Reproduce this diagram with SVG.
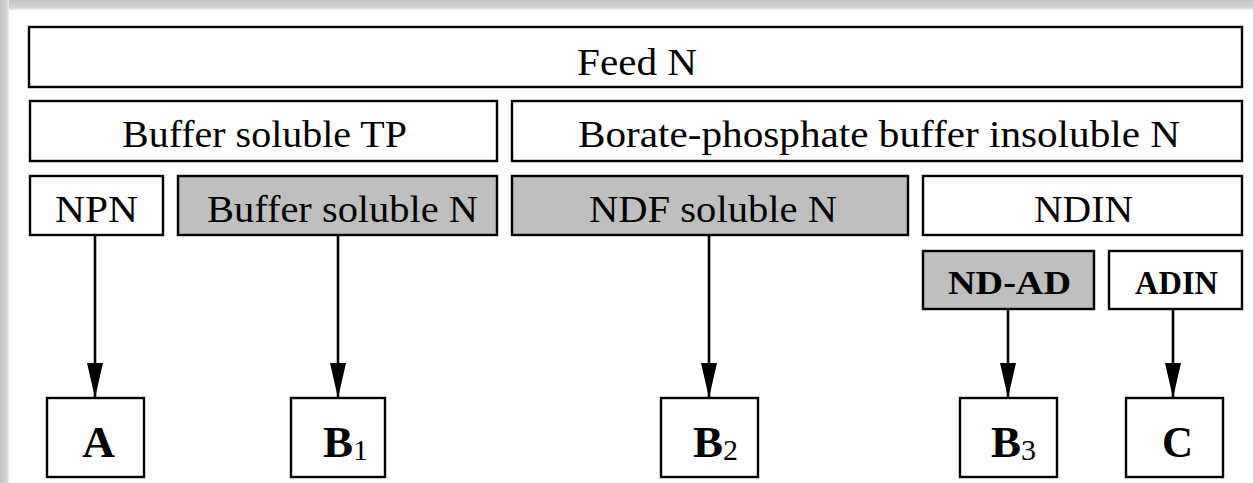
<svg xmlns="http://www.w3.org/2000/svg" width="1253" height="483" viewBox="0 0 1253 483">
<style>
.box{fill:#ffffff;stroke:#000;stroke-width:2.4}
.grey{fill:#bfbfbf;stroke:#000;stroke-width:2.4}
.t{font-family:"Liberation Serif","Times New Roman",serif;font-size:37px;fill:#000;text-anchor:start}
.s{font-family:"Liberation Serif","Times New Roman",serif;font-size:34px;font-weight:bold;fill:#000}
.b{font-family:"Liberation Serif","Times New Roman",serif;font-size:45px;font-weight:bold;fill:#000}
.sub{font-family:"Liberation Serif","Times New Roman",serif;font-size:30px;font-weight:normal;fill:#000}
.arr{stroke:#000;stroke-width:2.6;fill:none;marker-end:url(#ah)}
</style>
<defs>
<marker id="ah" markerWidth="36" markerHeight="16" refX="35" refY="8" orient="auto" markerUnits="userSpaceOnUse" viewBox="0 0 36 16">
<path d="M0,0 L35,8 L0,16 Z" fill="#000"/>
</marker>
<linearGradient id="gt" x1="0" y1="0" x2="0" y2="1">
<stop offset="0" stop-color="#c4c4c4"/><stop offset="0.7" stop-color="#d2d2d2"/><stop offset="1" stop-color="#ececec"/>
</linearGradient>
<linearGradient id="gl" x1="0" y1="0" x2="1" y2="0">
<stop offset="0" stop-color="#c4c4c4"/><stop offset="0.7" stop-color="#d2d2d2"/><stop offset="1" stop-color="#ececec"/>
</linearGradient>
</defs>
<rect x="0" y="0" width="1253" height="483" fill="#ffffff"/>
<rect x="0" y="0" width="1253" height="10" fill="url(#gt)"/>
<rect x="0" y="0" width="9" height="483" fill="url(#gl)"/>

<g id="feedN"><rect class="box" x="29" y="27" width="1213" height="60"/><text class="t" x="577" y="75" textLength="120" lengthAdjust="spacingAndGlyphs">Feed N</text></g>
<g id="bufferSolubleTP"><rect class="box" x="30" y="101" width="467" height="60"/><text class="t" x="122" y="147" textLength="285" lengthAdjust="spacingAndGlyphs">Buffer soluble TP</text></g>
<g id="borateInsoluble"><rect class="box" x="512" y="101" width="730" height="60"/><text class="t" x="578" y="147" textLength="602" lengthAdjust="spacingAndGlyphs">Borate-phosphate buffer insoluble N</text></g>
<g id="NPN"><rect class="box" x="30" y="176" width="133" height="59"/><text class="t" x="55" y="222" textLength="83" lengthAdjust="spacingAndGlyphs">NPN</text></g>
<g id="bufferSolubleN"><rect class="grey" x="178" y="176" width="319" height="59"/><text class="t" x="207" y="222" textLength="271" lengthAdjust="spacingAndGlyphs">Buffer soluble N</text></g>
<g id="NDFsolubleN"><rect class="grey" x="512" y="176" width="396" height="59"/><text class="t" x="589" y="222" textLength="248" lengthAdjust="spacingAndGlyphs">NDF soluble N</text></g>
<g id="NDIN"><rect class="box" x="923" y="176" width="319" height="59"/><text class="t" x="1034" y="222" textLength="99" lengthAdjust="spacingAndGlyphs">NDIN</text></g>
<g id="NDAD"><rect class="grey" x="923" y="251" width="171" height="58"/><text class="s" x="948" y="294" textLength="123" lengthAdjust="spacingAndGlyphs">ND-AD</text></g>
<g id="ADIN"><rect class="box" x="1109" y="251" width="133" height="58"/><text class="s" x="1135" y="294" textLength="83" lengthAdjust="spacingAndGlyphs">ADIN</text></g>

<g id="A"><rect class="box" x="47" y="398" width="97" height="79"/><text class="b" x="82" y="457" textLength="33" lengthAdjust="spacingAndGlyphs">A</text></g>
<g id="B1"><rect class="box" x="291" y="398" width="94" height="79"/><text x="323" y="457"><tspan class="b">B</tspan><tspan class="sub" dy="3">1</tspan></text></g>
<g id="B2"><rect class="box" x="661" y="398" width="97" height="79"/><text x="693" y="457"><tspan class="b">B</tspan><tspan class="sub" dy="3">2</tspan></text></g>
<g id="B3"><rect class="box" x="960" y="398" width="97" height="79"/><text x="991" y="457"><tspan class="b">B</tspan><tspan class="sub" dy="3">3</tspan></text></g>
<g id="C"><rect class="box" x="1126" y="398" width="97" height="79"/><text class="b" x="1162" y="457" textLength="31" lengthAdjust="spacingAndGlyphs">C</text></g>

<g id="connectors">
<line class="arr" x1="95" y1="235" x2="95" y2="398"/>
<line class="arr" x1="338" y1="235" x2="338" y2="398"/>
<line class="arr" x1="709" y1="235" x2="709" y2="398"/>
<line class="arr" x1="1008" y1="309" x2="1008" y2="398"/>
<line class="arr" x1="1173" y1="309" x2="1173" y2="398"/>
</g>
</svg>
